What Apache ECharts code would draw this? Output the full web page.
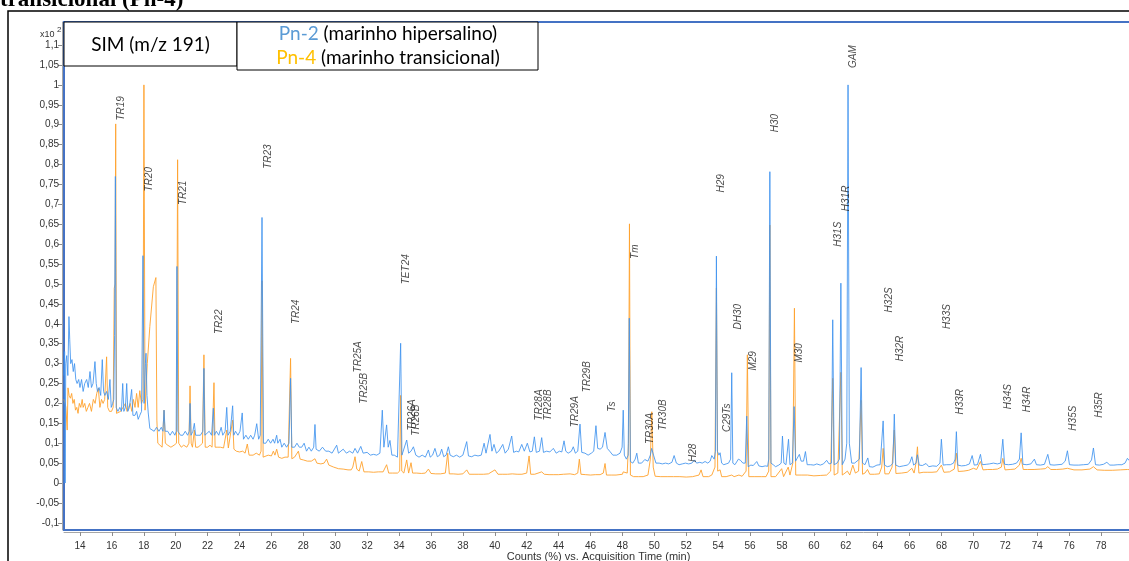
<!DOCTYPE html>
<html><head><meta charset="utf-8">
<script src="https://cdn.jsdelivr.net/npm/echarts@6/dist/echarts.min.js"></script>
<style>html,body{margin:0;padding:0;background:#fff;overflow:hidden}#c{width:1129px;height:561px}</style>
</head><body><div id="c"></div>
<script>
const xTicks = [14,16,18,20,22,24,26,28,30,32,34,36,38,40,42,44,46,48,50,52,54,56,58,60,62,64,66,68,70,72,74,76,78];
const yTicks = [-0.1,-0.05,0,0.05,0.1,0.15,0.2,0.25,0.3,0.35,0.4,0.45,0.5,0.55,0.6,0.65,0.7,0.75,0.8,0.85,0.9,0.95,1,1.05,1.1];

// Pn-2 (marinho hipersalino): [time (min), counts (x10^2 %)]
const pn2 = [
[13.00,0.27],[13.04,0.33],[13.07,0.0],[13.11,0.30],[13.17,0.32],[13.24,0.27],[13.31,0.418],[13.36,0.36],[13.42,0.30],[13.50,0.31],[13.58,0.28],[13.66,0.30],[13.74,0.26],[13.82,0.25],[13.92,0.26],[14.00,0.24],[14.10,0.26],[14.20,0.23],[14.30,0.25],[14.42,0.26],[14.52,0.24],[14.63,0.28],[14.72,0.24],[14.82,0.25],[14.94,0.305],[15.02,0.25],[15.10,0.23],[15.20,0.24],[15.30,0.22],[15.40,0.31],[15.48,0.23],[15.56,0.22],[15.67,0.23],[15.78,0.21],[15.88,0.26],[15.96,0.19],[16.05,0.20],[16.12,0.21],[16.17,0.37],[16.22,0.77],[16.27,0.19],[16.38,0.18],[16.50,0.19],[16.60,0.18],[16.68,0.25],[16.75,0.18],[16.85,0.19],[16.93,0.25],[17.00,0.18],[17.10,0.19],[17.24,0.235],[17.32,0.17],[17.45,0.17],[17.55,0.18],[17.65,0.16],[17.75,0.17],[17.86,0.18],[17.95,0.571],[18.02,0.20],[18.10,0.30],[18.14,0.326],[18.20,0.22],[18.28,0.176],[18.38,0.137],
[18.50,0.14],[18.65,0.13],[18.80,0.14],[18.95,0.13],[19.10,0.14],[19.20,0.13],[19.27,0.183],[19.34,0.13],[19.50,0.13],[19.65,0.12],[19.80,0.13],[19.95,0.12],[20.03,0.13],[20.08,0.544],[20.14,0.13],[20.30,0.12],[20.45,0.12],[20.60,0.13],[20.75,0.12],[20.85,0.13],[20.90,0.20],[20.96,0.12],[21.08,0.13],[21.17,0.15],[21.25,0.12],[21.40,0.12],[21.55,0.12],[21.70,0.13],[21.77,0.288],[21.83,0.12],[21.95,0.12],[22.10,0.13],[22.25,0.12],[22.36,0.188],[22.42,0.12],[22.55,0.13],[22.70,0.12],[22.85,0.14],[22.95,0.12],[23.10,0.13],[23.20,0.19],[23.28,0.12],[23.42,0.13],[23.57,0.194],[23.64,0.12],[23.75,0.13],[23.90,0.12],[24.03,0.13],[24.17,0.176],[24.25,0.11],[24.40,0.12],[24.55,0.11],[24.70,0.12],[24.85,0.11],[24.95,0.12],[25.08,0.149],[25.20,0.11],[25.30,0.12],[25.41,0.667],[25.50,0.10],[25.65,0.10],[25.80,0.11],[25.95,0.10],[26.10,0.11],[26.20,0.10],[26.33,0.12],[26.40,0.10],[26.54,0.11],[26.65,0.09],[26.80,0.10],[26.95,0.09],[27.10,0.10],[27.20,0.263],[27.28,0.09],[27.45,0.09],[27.60,0.10],[27.75,0.09],[27.90,0.09],[28.05,0.10],[28.20,0.08],[28.35,0.09],[28.50,0.08],[28.65,0.09],[28.73,0.147],[28.80,0.085],[29.00,0.08],[29.20,0.09],[29.40,0.08],[29.60,0.08],[29.80,0.075],[30.09,0.095],[30.20,0.075],[30.50,0.085],[30.70,0.075],[30.90,0.08],[31.10,0.075],[31.24,0.087],[31.40,0.075],[31.60,0.092],[31.75,0.075],[32.00,0.077],[32.20,0.07],[32.40,0.072],[32.60,0.07],[32.80,0.075],[32.95,0.183],[33.05,0.09],[33.22,0.146],[33.32,0.09],[33.43,0.107],[33.55,0.07],[33.70,0.07],[33.90,0.065],[34.02,0.07],[34.10,0.351],[34.18,0.07],[34.30,0.07],[34.48,0.108],[34.60,0.075],[34.75,0.08],[34.90,0.091],[35.05,0.07],[35.25,0.065],[35.45,0.07],[35.65,0.065],[35.84,0.083],[35.95,0.065],[36.10,0.07],[36.25,0.087],[36.40,0.066],[36.55,0.07],[36.67,0.085],[36.80,0.066],[36.95,0.07],[37.09,0.091],[37.20,0.07],[37.40,0.066],[37.60,0.07],[37.80,0.065],[38.00,0.07],[38.24,0.104],[38.35,0.068],[38.55,0.066],[38.75,0.07],[38.95,0.068],[39.15,0.07],[39.33,0.10],[39.45,0.075],[39.70,0.122],[39.82,0.08],[39.95,0.097],[40.10,0.075],[40.25,0.08],[40.50,0.097],[40.65,0.075],[40.85,0.085],[41.06,0.118],[41.18,0.077],[41.35,0.08],[41.50,0.078],[41.69,0.097],[41.85,0.08],[42.04,0.10],[42.20,0.078],[42.35,0.08],[42.48,0.116],[42.60,0.077],[42.80,0.08],[42.94,0.114],[43.05,0.077],[43.25,0.08],[43.45,0.078],[43.67,0.087],[43.85,0.075],[44.05,0.08],[44.20,0.078],[44.34,0.106],[44.45,0.08],[44.60,0.075],[44.80,0.08],[44.92,0.091],[45.05,0.075],[45.20,0.08],[45.34,0.148],[45.45,0.077],[45.65,0.075],[45.85,0.07],[46.05,0.075],[46.20,0.08],[46.34,0.144],[46.45,0.087],[46.60,0.085],[46.75,0.09],[46.91,0.127],[47.05,0.087],[47.20,0.08],[47.40,0.07],[47.64,0.07],[47.85,0.075],[47.98,0.09],[48.05,0.183],[48.12,0.07],[48.25,0.06],[48.36,0.07],[48.43,0.414],[48.50,0.054],[48.65,0.05],[48.80,0.06],[48.90,0.075],[49.00,0.05],[49.20,0.05],[49.40,0.059],[49.60,0.055],[49.75,0.07],[49.83,0.087],[49.95,0.07],[50.10,0.05],
[50.30,0.05],[50.50,0.048],[50.70,0.05],[50.90,0.048],[51.10,0.052],[51.24,0.069],[51.38,0.05],[51.55,0.046],[51.75,0.048],[51.95,0.05],[52.15,0.048],[52.35,0.05],[52.51,0.058],[52.65,0.05],[52.85,0.052],[53.00,0.05],[53.18,0.054],[53.35,0.05],[53.50,0.055],[53.60,0.069],[53.75,0.06],[53.83,0.08],[53.89,0.570],[53.95,0.08],[54.05,0.07],[54.12,0.076],[54.22,0.05],[54.35,0.046],[54.50,0.048],[54.65,0.05],[54.78,0.06],[54.85,0.277],[54.92,0.05],[55.05,0.046],[55.15,0.05],[55.27,0.06],[55.40,0.057],[55.55,0.05],[55.70,0.05],[55.79,0.168],[55.88,0.041],[56.05,0.045],[56.20,0.044],[56.42,0.054],[56.55,0.043],[56.75,0.041],[56.95,0.043],[57.10,0.042],[57.17,0.06],[57.24,0.782],[57.31,0.05],[57.45,0.046],[57.60,0.041],[57.80,0.045],[57.95,0.05],[58.03,0.118],[58.12,0.05],[58.25,0.046],[58.41,0.11],[58.50,0.046],[58.65,0.05],[58.76,0.192],[58.85,0.055],[58.95,0.05],[59.09,0.072],[59.20,0.055],[59.35,0.055],[59.47,0.079],[59.58,0.046],[59.80,0.046],[60.00,0.045],[60.18,0.048],[60.40,0.045],[60.60,0.048],[60.80,0.057],[60.95,0.048],[61.10,0.05],[61.18,0.41],[61.27,0.046],[61.45,0.05],[61.60,0.06],[61.69,0.502],[61.78,0.046],[61.95,0.06],[62.06,0.10],[62.14,1.0],[62.22,0.10],[62.37,0.05],[62.55,0.05],[62.70,0.055],[62.85,0.06],[62.96,0.29],[63.05,0.05],[63.20,0.046],[63.38,0.063],[63.48,0.041],[63.70,0.04],[63.95,0.045],[64.15,0.046],[64.25,0.05],[64.34,0.156],[64.43,0.045],[64.60,0.041],[64.80,0.043],[64.95,0.05],[65.04,0.173],[65.13,0.045],[65.35,0.041],[65.60,0.043],[65.85,0.045],[66.00,0.05],[66.14,0.066],[66.25,0.045],[66.40,0.05],[66.49,0.071],[66.60,0.045],[66.80,0.044],[67.03,0.049],[67.20,0.041],[67.45,0.043],[67.70,0.042],[67.90,0.05],[67.99,0.11],[68.10,0.045],[68.30,0.046],[68.55,0.046],[68.75,0.05],[68.85,0.06],[68.93,0.129],[69.02,0.045],[69.25,0.043],[69.50,0.044],[69.75,0.048],[69.92,0.069],[70.05,0.045],[70.25,0.046],[70.44,0.072],[70.55,0.046],[70.80,0.047],[71.00,0.048],[71.25,0.05],[71.50,0.048],[71.70,0.05],[71.84,0.11],[71.95,0.047],[72.20,0.046],[72.45,0.047],[72.70,0.05],[72.88,0.06],[72.99,0.126],[73.10,0.047],[73.35,0.046],[73.60,0.048],[73.82,0.06],[73.95,0.046],[74.20,0.045],[74.45,0.047],[74.66,0.072],[74.80,0.046],[75.05,0.045],[75.30,0.046],[75.55,0.047],[75.75,0.055],[75.89,0.081],[76.02,0.046],[76.30,0.045],[76.60,0.045],[76.90,0.046],[77.20,0.047],[77.40,0.058],[77.52,0.088],[77.65,0.046],[77.90,0.045],[78.15,0.047],[78.36,0.052],[78.55,0.045],[78.80,0.045],[79.05,0.046],[79.30,0.046],[79.50,0.05],[79.65,0.062],[79.80,0.055],[80.00,0.05]
];

// Pn-4 (marinho transicional)
const pn4 = [
[13.00,0.21],[13.07,0.20],[13.12,0.19],[13.20,0.133],[13.25,0.239],[13.32,0.22],[13.40,0.213],[13.48,0.225],[13.56,0.20],[13.64,0.21],[13.72,0.183],[13.80,0.19],[13.88,0.175],[13.96,0.20],[14.05,0.19],[14.14,0.21],[14.20,0.19],[14.30,0.20],[14.40,0.18],[14.50,0.19],[14.60,0.20],[14.72,0.18],[14.84,0.21],[14.95,0.20],[15.05,0.225],[15.15,0.238],[15.25,0.19],[15.35,0.21],[15.45,0.20],[15.55,0.21],[15.67,0.317],[15.74,0.19],[15.85,0.18],[15.98,0.18],[16.08,0.19],[16.15,0.489],[16.20,0.50],[16.24,0.902],[16.29,0.175],[16.40,0.18],[16.55,0.18],[16.70,0.19],[16.85,0.20],[16.95,0.18],[17.05,0.19],[17.15,0.20],[17.25,0.18],[17.35,0.21],[17.45,0.19],[17.55,0.225],[17.65,0.19],[17.75,0.232],[17.85,0.20],[17.95,0.21],[18.01,1.0],[18.08,0.183],[18.22,0.30],[18.38,0.393],[18.60,0.493],[18.76,0.516],[18.82,0.158],[18.88,0.10],[19.00,0.10],[19.15,0.09],[19.27,0.183],[19.35,0.10],[19.50,0.095],[19.70,0.09],[19.90,0.095],[20.05,0.10],[20.12,0.812],[20.19,0.10],[20.35,0.09],[20.50,0.095],[20.70,0.09],[20.83,0.10],[20.90,0.244],[20.97,0.10],[21.05,0.09],[21.17,0.133],[21.25,0.09],[21.40,0.09],[21.55,0.095],[21.68,0.10],[21.77,0.322],[21.85,0.09],[22.00,0.09],[22.15,0.095],[22.28,0.09],[22.40,0.252],[22.47,0.09],[22.60,0.09],[22.80,0.09],[23.00,0.088],[23.20,0.133],[23.30,0.088],[23.57,0.158],[23.65,0.085],[23.80,0.08],[24.00,0.078],[24.20,0.08],[24.35,0.075],[24.49,0.098],[24.60,0.07],[24.85,0.07],[25.05,0.075],[25.25,0.07],[25.35,0.08],[25.41,0.508],[25.48,0.065],[25.60,0.068],[25.80,0.07],[26.00,0.068],[26.12,0.08],[26.22,0.07],[26.33,0.085],[26.45,0.065],[26.65,0.062],[26.85,0.065],[27.05,0.065],[27.20,0.313],[27.28,0.061],[27.45,0.065],[27.69,0.08],[27.80,0.06],[28.00,0.058],[28.25,0.055],[28.50,0.055],[28.73,0.061],[28.85,0.05],[29.10,0.048],[29.30,0.05],[29.46,0.06],[29.60,0.045],[29.90,0.04],[30.20,0.036],[30.50,0.035],[30.80,0.033],[31.00,0.033],[31.10,0.04],[31.24,0.066],[31.35,0.035],[31.50,0.03],[31.66,0.054],[31.80,0.028],[32.10,0.028],[32.40,0.027],[32.70,0.028],[33.00,0.028],[33.22,0.046],[33.35,0.025],[33.60,0.025],[33.90,0.025],[34.04,0.03],[34.10,0.22],[34.17,0.03],[34.30,0.025],[34.48,0.058],[34.60,0.025],[34.75,0.051],[34.85,0.025],[35.10,0.025],[35.40,0.024],[35.65,0.025],[35.84,0.035],[36.00,0.024],[36.30,0.023],[36.60,0.023],[36.90,0.025],[37.05,0.075],[37.15,0.023],[37.40,0.023],[37.70,0.022],[38.00,0.023],[38.24,0.033],[38.40,0.022],[38.70,0.022],[39.00,0.022],[39.30,0.022],[39.60,0.023],[40.01,0.033],[40.20,0.022],[40.50,0.022],[40.80,0.022],[41.10,0.023],[41.40,0.022],[41.70,0.022],[42.00,0.025],[42.15,0.068],[42.25,0.022],[42.50,0.022],[42.94,0.028],[43.10,0.022],[43.40,0.021],[43.70,0.021],[44.00,0.021],[44.30,0.022],[44.72,0.023],[45.00,0.021],[45.20,0.025],[45.30,0.06],[45.40,0.022],[45.70,0.021],[46.00,0.02],[46.30,0.021],[46.60,0.021],[46.80,0.025],[46.91,0.049],[47.00,0.02],[47.30,0.02],[47.60,0.02],[48.00,0.022],[48.05,0.028],[48.30,0.025],[48.38,0.1],[48.44,0.651],[48.50,0.02],[48.70,0.016],[49.00,0.016],[49.30,0.016],[49.60,0.02],[49.75,0.06],[49.84,0.179],[49.93,0.04],[50.05,0.017],[50.40,0.016],[50.80,0.016],[51.20,0.016],[51.60,0.016],[52.00,0.015],[52.40,0.016],[52.80,0.02],[52.93,0.033],[53.05,0.016],[53.40,0.016],[53.60,0.02],[53.80,0.04],[53.89,0.49],[53.97,0.03],[54.12,0.033],[54.22,0.016],[54.50,0.016],[54.85,0.02],[55.00,0.016],[55.30,0.02],[55.50,0.017],[55.75,0.03],[55.83,0.322],[55.92,0.016],[56.30,0.016],[56.70,0.016],[57.00,0.016],[57.17,0.03],[57.24,0.648],[57.31,0.016],[57.60,0.016],[57.98,0.036],[58.10,0.016],[58.39,0.04],[58.50,0.02],[58.68,0.05],[58.78,0.439],[58.86,0.02],[59.20,0.02],[59.60,0.02],[60.00,0.018],[60.40,0.019],[60.80,0.02],[61.05,0.03],[61.18,0.263],[61.27,0.02],[61.50,0.025],[61.69,0.278],[61.78,0.02],[61.95,0.025],[62.10,0.03],[62.25,0.02],[62.44,0.045],[62.60,0.025],[62.80,0.03],[62.96,0.208],[63.05,0.022],[63.20,0.025],[63.36,0.034],[63.50,0.022],[63.80,0.022],[64.10,0.023],[64.25,0.04],[64.34,0.087],[64.45,0.023],[64.70,0.023],[64.90,0.04],[65.04,0.133],[65.14,0.024],[65.50,0.025],[65.85,0.027],[66.14,0.037],[66.28,0.025],[66.40,0.05],[66.49,0.091],[66.58,0.025],[66.85,0.027],[67.10,0.027],[67.40,0.027],[67.70,0.028],[67.99,0.045],[68.15,0.027],[68.50,0.028],[68.80,0.035],[68.93,0.075],[69.05,0.029],[69.40,0.03],[69.70,0.032],[70.00,0.037],[70.20,0.034],[70.44,0.054],[70.60,0.033],[70.90,0.034],[71.20,0.034],[71.50,0.035],[71.75,0.04],[71.84,0.062],[71.98,0.033],[72.30,0.034],[72.60,0.035],[72.88,0.045],[72.99,0.062],[73.12,0.034],[73.40,0.034],[73.80,0.034],[74.20,0.035],[74.50,0.036],[74.66,0.041],[74.85,0.034],[75.20,0.034],[75.60,0.035],[75.89,0.037],[76.30,0.033],[76.80,0.033],[77.30,0.035],[77.52,0.041],[77.75,0.033],[78.20,0.032],[78.70,0.032],[79.20,0.033],[79.65,0.034],[80.00,0.033]
];

// Peak annotations
const peakNames = ['TR19','TR20','TR21','TR22','TR23','TR24','TR25A','TR25B','TET24','TR26A','TR26B','TR28A','TR28B','TR29A','TR29B','Ts','Tm','TR30A','TR30B','H28','H29','C29Ts','DH30','M29','H30','M30','H31S','H31R','GAM','H32S','H32R','H33S','H33R','H34S','H34R','H35S','H35R'];
const peakLabelTimes = [16.57,18.34,20.48,22.73,25.81,27.54,31.45,31.81,34.48,34.80,35.07,42.80,43.36,45.03,45.77,47.34,48.80,49.74,50.57,52.45,54.19,54.55,55.24,56.18,57.57,59.10,61.54,62.02,62.48,64.72,65.41,68.34,69.20,72.15,73.34,76.26,77.89];
const peakLabelLevels = [0.941,0.763,0.729,0.405,0.820,0.430,0.317,0.238,0.537,0.171,0.158,0.196,0.196,0.179,0.267,0.192,0.581,0.137,0.171,0.076,0.753,0.164,0.418,0.307,0.904,0.327,0.625,0.715,1.071,0.460,0.338,0.418,0.204,0.217,0.210,0.163,0.196];

const seriesNames = ['Pn-2','Pn-4'];
const seriesDesc = ['(marinho hipersalino)','(marinho transicional)'];
const boxTitle = 'SIM (m/z 191)';

const fmt = v => String(Math.round(v * 100) / 100).replace('.', ',');

const chart = echarts.init(document.getElementById('c'), null, {renderer: 'canvas'});
const labelData = peakNames.map((n, i) => ({name: n, value: [peakLabelTimes[i], peakLabelLevels[i]]}));

chart.setOption({
  animation: false,
  backgroundColor: '#fff',
  grid: {left: 64, top: 22, width: 1069, height: 508, show: true, borderColor: '#4472C4', borderWidth: 2, backgroundColor: 'transparent', containLabel: false, outerBoundsMode: 'none'},
  xAxis: {
    type: 'value', min: 13, max: 80, offset: 2,
    splitLine: {show: false},
    axisLine: {show: true, onZero: false, lineStyle: {color: '#A6A6A6', width: 1}},
    axisTick: {show: true, customValues: xTicks, length: 4, lineStyle: {color: '#8C8C8C'}},
    axisLabel: {customValues: xTicks, fontSize: 10, color: '#333', margin: 9, fontFamily: 'Liberation Sans'},
    name: 'Counts (%) vs. Acquisition Time (min)', nameLocation: 'middle', nameGap: 19, nameMoveOverlap: false,
    nameTextStyle: {fontSize: 11, color: '#333', fontFamily: 'Liberation Sans'}
  },
  yAxis: {
    type: 'value', min: -0.118, max: 1.158, offset: 2,
    splitLine: {show: false},
    axisLine: {show: true, onZero: false, lineStyle: {color: '#A6A6A6', width: 1}},
    axisTick: {show: true, customValues: yTicks, length: 4, lineStyle: {color: '#8C8C8C'}},
    axisLabel: {customValues: yTicks, formatter: fmt, fontSize: 10, color: '#333', margin: 3, fontFamily: 'Liberation Sans'}
  },
  series: [
    {type: 'line', name: seriesNames[1], data: pn4, showSymbol: false, symbol: 'none', lineStyle: {color: '#FFA22E', width: 1, opacity: 0.9}, z: 2},
    {type: 'line', name: seriesNames[0], data: pn2, showSymbol: false, symbol: 'none', lineStyle: {color: '#3F93EE', width: 1, opacity: 0.85}, z: 3},
    {type: 'scatter', data: labelData, symbolSize: 1, itemStyle: {color: 'rgba(0,0,0,0)'}, z: 4, silent: true,
     label: {show: true, formatter: '{b}', position: 'inside', rotate: 90, fontSize: 10, fontStyle: 'italic', color: '#1a1a1a', fontFamily: 'Liberation Sans'}}
  ],
  graphic: [
    {type: 'text', x: 0, y: -11, z: 10, style: {text: 'transicional (Pn-4)', font: 'bold 23px "Liberation Serif"', fill: '#000'}},
    {type: 'rect', shape: {x: 8, y: 11, width: 1200, height: 600}, style: {fill: 'none', stroke: '#000', lineWidth: 1.5}, z: 10},
    {type: 'text', x: 40, y: 26, z: 10, style: {text: '{a|x10 }{b|2}', rich: {a: {fontSize: 9, fontFamily: 'Liberation Sans', fill: '#333', padding: [4,0,0,0]}, b: {fontSize: 8, fontFamily: 'Liberation Sans', fill: '#333', verticalAlign: 'top'}}}},
    {type: 'rect', shape: {x: 64, y: 22, width: 173, height: 44}, style: {fill: '#fff', stroke: '#000', lineWidth: 1}, z: 10},
    {type: 'text', x: 150.5, y: 45, z: 11, style: {text: boxTitle, font: '19px Lato', fill: '#000', align: 'center', verticalAlign: 'middle'}},
    {type: 'rect', shape: {x: 237, y: 22, width: 301, height: 48}, style: {fill: '#fff', stroke: '#000', lineWidth: 1}, z: 10},
    {type: 'text', x: 388, y: 34, z: 11, style: {text: '{p|' + seriesNames[0] + '} ' + seriesDesc[0], font: '19px Lato', fill: '#000', align: 'center', verticalAlign: 'middle', rich: {p: {font: '19px Lato', fill: '#5B9BD5'}}}},
    {type: 'text', x: 388, y: 58, z: 11, style: {text: '{p|' + seriesNames[1] + '} ' + seriesDesc[1], font: '19px Lato', fill: '#000', align: 'center', verticalAlign: 'middle', rich: {p: {font: '19px Lato', fill: '#FFC000'}}}}
  ]
});
</script>
</body></html>
